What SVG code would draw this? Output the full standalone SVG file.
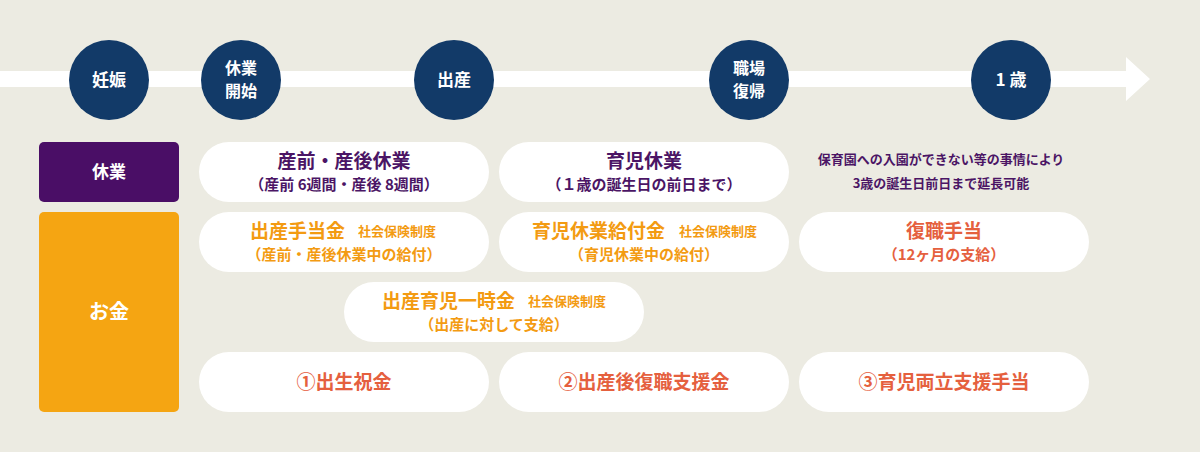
<svg xmlns="http://www.w3.org/2000/svg" width="1200" height="452" viewBox="0 0 1200 452">
<defs><style>
text{font-family:"Noto Sans CJK JP","Noto Sans",sans-serif;font-weight:700;text-anchor:middle}
.c{fill:#123a68}.ct{fill:#fff;font-size:17px}.ct2{fill:#fff;font-size:16px}
.p{fill:#fff}
.pu{fill:#4b1565}.or{fill:#f39b12}.rd{fill:#e5603e}
.big{font-size:19px}.sm{font-size:15px}.xs{font-size:13px}
.e{text-anchor:end}.s{text-anchor:start}
</style></defs>
<rect width="1200" height="452" fill="#ecebe2"/>
<g id="connectors"><path d="M0 71H1126V57L1150 79L1126 101V87H0Z" fill="#fff"/></g>
<g id="n1"><circle class="c" cx="109" cy="80" r="40"/><text class="ct" x="109" y="86">妊娠</text></g>
<g id="n2"><circle class="c" cx="241" cy="80" r="40"/><text class="ct2" x="241" y="74">休業</text><text class="ct2" x="241" y="97">開始</text></g>
<g id="n3"><circle class="c" cx="454" cy="80" r="40"/><text class="ct" x="454" y="86">出産</text></g>
<g id="n4"><circle class="c" cx="749" cy="80" r="40"/><text class="ct2" x="749" y="74">職場</text><text class="ct2" x="749" y="97">復帰</text></g>
<g id="n5"><circle class="c" cx="1011" cy="80" r="40"/><text class="ct" x="1011" y="86">1 歳</text></g>
<g id="l1"><rect x="39" y="142" width="140" height="60" rx="5" fill="#4a0e66"/><text class="ct" x="109" y="178">休業</text></g>
<g id="l2"><rect x="39" y="212" width="140" height="200" rx="5" fill="#f5a512"/><text x="109" y="319" fill="#fff" font-size="20">お金</text></g>
<g id="b1"><rect class="p" x="199" y="142" width="290" height="60" rx="30"/><text class="pu big" x="344" y="168">産前・産後休業</text><text class="pu sm" x="344" y="190">（産前 6週間・産後 8週間）</text></g>
<g id="b2"><rect class="p" x="499" y="142" width="290" height="60" rx="30"/><text class="pu big" x="644" y="168">育児休業</text><text class="pu sm" x="644" y="190">（１歳の誕生日の前日まで）</text></g>
<g id="b3"><text class="pu xs" x="941" y="164">保育園への入園ができない等の事情により</text><text class="pu xs" x="941" y="188">3歳の誕生日前日まで延長可能</text></g>
<g id="b4"><rect class="p" x="199" y="212" width="290" height="60" rx="30"/><text class="or big e" x="345" y="238">出産手当金</text><text class="or xs s" x="358" y="236">社会保険制度</text><text class="or sm" x="344" y="260">（産前・産後休業中の給付）</text></g>
<g id="b5"><rect class="p" x="499" y="212" width="290" height="60" rx="30"/><text class="or big e" x="665" y="238">育児休業給付金</text><text class="or xs s" x="679" y="236">社会保険制度</text><text class="or sm" x="644" y="260">（育児休業中の給付）</text></g>
<g id="b6"><rect class="p" x="799" y="212" width="290" height="60" rx="30"/><text class="rd big" x="944" y="238">復職手当</text><text class="rd sm" x="944" y="260">（12ヶ月の支給）</text></g>
<g id="b7"><rect class="p" x="344" y="282" width="300" height="60" rx="30"/><text class="or big e" x="515" y="308">出産育児一時金</text><text class="or xs s" x="528" y="306">社会保険制度</text><text class="or sm" x="494" y="330">（出産に対して支給）</text></g>
<g id="b8"><rect class="p" x="199" y="352" width="290" height="60" rx="30"/><text class="rd big" x="344" y="389">①出生祝金</text></g>
<g id="b9"><rect class="p" x="499" y="352" width="290" height="60" rx="30"/><text class="rd big" x="644" y="389">②出産後復職支援金</text></g>
<g id="b10"><rect class="p" x="799" y="352" width="290" height="60" rx="30"/><text class="rd big" x="944" y="389">③育児両立支援手当</text></g>
</svg>
